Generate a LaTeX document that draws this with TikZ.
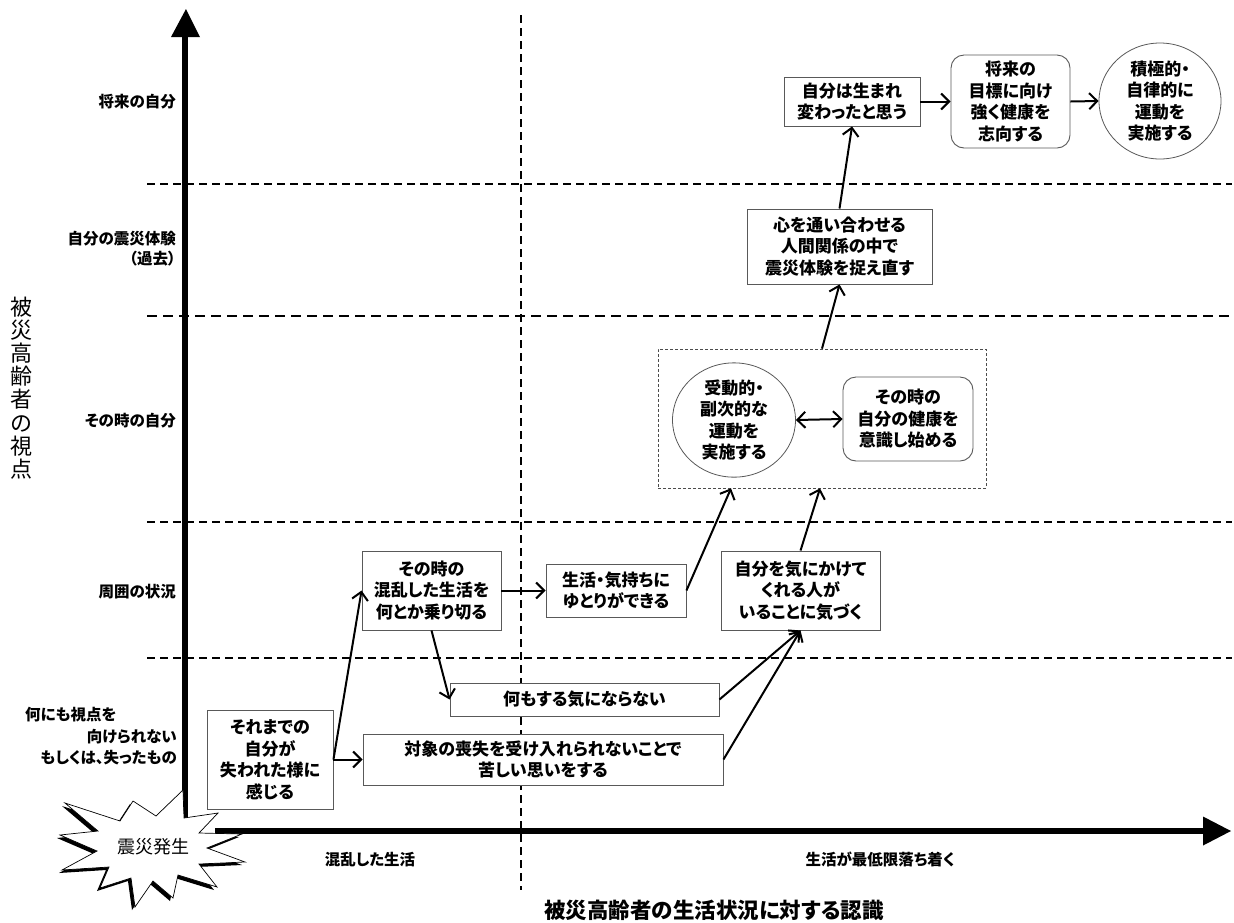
\documentclass[tikz,border=0pt]{standalone}
\usepackage{fontspec}
\setmainfont{Noto Sans CJK JP}[RawFeature={+palt}]
\usetikzlibrary{arrows.meta,shapes.geometric,calc}
\tikzset{
  boxtext/.style={font=\bfseries\fontsize{17}{21.5}\selectfont, align=center, text=black},
  sqbox/.style={boxtext, draw=black!65, line width=0.9pt, fill=white, inner sep=0pt},
  rbox/.style={sqbox, rounded corners=13pt},
  ebox/.style={boxtext, ellipse, draw=black!65, line width=0.8pt, fill=white, inner sep=0pt},
  rowlabel/.style={font=\bfseries\fontsize{15.5}{19}\selectfont, inner sep=0pt},
  conn/.style={line width=2pt, -{Straight Barb[length=8pt,width=16pt]}},
  dconn/.style={line width=2pt, {Straight Barb[length=8pt,width=16pt]}-{Straight Barb[length=8pt,width=16pt]}},
  rowsep/.style={line width=1.5pt, dash pattern=on 8pt off 5pt},
  rowsepthick/.style={line width=2.3pt, dash pattern=on 10pt off 6pt},
  colsep/.style={line width=1.3pt, dash pattern=on 8pt off 5pt},
  axisline/.style={line width=6pt}
}
\begin{document}
\begin{tikzpicture}[x=1pt,y=-1pt]
\useasboundingbox (0,0) rectangle (1234,922);
\fill[white] (0,0) rectangle (1234,922);

% separators
\draw[rowsep] (147,184) -- (1232,184);
\draw[rowsepthick] (147,316) -- (1232,316);
\draw[rowsep] (147,522) -- (1232,522);
\draw[rowsep] (147,658) -- (1232,658);
\draw[colsep] (521,15) -- (521,890);

% axes
\coordinate (yb) at (185,818);
\coordinate (yt) at (185,36);
\coordinate (xl) at (215,831);
\coordinate (xr) at (1204,831);
\draw[axisline] (yb) -- (yt);
\fill (171,37) -- (200,37) -- (186,9) -- cycle;
\draw[axisline] (xl) -- (xr);
\fill (1203,816.5) -- (1203,845.5) -- (1231,831) -- cycle;

% row labels
\node[rowlabel, anchor=east] (r1) at (176,102) {将来の自分};
\node[rowlabel, anchor=east] (r2a) at (176,239) {自分の震災体験};
\node[rowlabel, anchor=east] (r2b) at (176,259) {（過去）};
\node[rowlabel, anchor=east] (r3) at (176,421) {その時の自分};
\node[rowlabel, anchor=east] (r4) at (176,592) {周囲の状況};
\node[rowlabel, anchor=west] (r5a) at (25,715) {何にも視点を};
\node[rowlabel, anchor=east] (r5b) at (177,737) {向けられない};
\node[rowlabel, anchor=east] (r5c) at (177,758) {もしくは、失ったもの};

% vertical axis title
\node[font=\fontsize{22}{23.2}\selectfont, align=center, inner sep=0pt] (ytitle) at (21,388)
  {被\\災\\高\\齢\\者\\の\\視\\点};

% bottom labels
\node[rowlabel] (xl1) at (370,860) {混乱した生活};
\node[rowlabel] (xl2) at (880,859) {生活が最低限落ち着く};
\node[font=\bfseries\fontsize{21.5}{24}\selectfont, inner sep=0pt] (xtitle) at (714,910) {被災高齢者の生活状況に対する認識};

% starburst
\def\burst{(65,803) -- (120,821) -- (133,801) -- (156,816) -- (183,790) -- (184,818) -- (218,813) -- (199,833) -- (242,834) -- (207,848) -- (245,862) -- (199,864) -- (217,887) -- (178,875) -- (173,898) -- (153,881) -- (135,907) -- (131,878) -- (100,888) -- (109,867) -- (62,870) -- (97,851) -- (60,835) -- (98,831) -- cycle}
\fill[black, shift={(-3,3)}] \burst;
\filldraw[fill=white, draw=black, line width=0.7pt] \burst;
\node[font=\fontsize{18}{20}\selectfont, inner sep=0pt] (quake) at (153,847) {震災発生};

% boxes
\node[sqbox, minimum width=126pt, minimum height=99pt] (b1) at (270,759.5) {それまでの\\自分が\\失われた様に\\感じる};
\node[sqbox, minimum width=360pt, minimum height=51pt] (b2) at (543,759.5) {対象の喪失を受け入れられないことで\\苦しい思いをする};
\node[sqbox, minimum width=269pt, minimum height=33pt] (b3) at (584.5,699.5) {何もする気にならない};
\node[sqbox, minimum width=139pt, minimum height=79pt] (b4) at (431.5,590.5) {その時の\\混乱した生活を\\何とか乗り切る};
\node[sqbox, minimum width=140pt, minimum height=53pt] (b5) at (616,590.5) {生活・気持ちに\\ゆとりができる};
\node[sqbox, minimum width=159pt, minimum height=79pt] (b6) at (800.5,590.5) {自分を気にかけて\\くれる人が\\いることに気づく};

\node[draw=black!70, line width=0.7pt, dash pattern=on 3pt off 2pt, minimum width=328pt, minimum height=139pt, inner sep=0pt] (grp) at (822,418.5) {};
\node[ebox, minimum width=123pt, minimum height=112pt] (ell) at (734,420) {受動的・\\副次的な\\運動を\\実施する};
\node[rbox, minimum width=130pt, minimum height=84pt] (rr1) at (908,419) {その時の\\自分の健康を\\意識し始める};

\node[sqbox, minimum width=185pt, minimum height=75pt] (b7) at (839.5,246.5) {心を通い合わせる\\人間関係の中で\\震災体験を捉え直す};
\node[sqbox, minimum width=136pt, minimum height=49pt] (b8) at (852,101.5) {自分は生まれ\\変わったと思う};
\node[rbox, minimum width=119pt, minimum height=93pt] (rr2) at (1010.5,101.5) {将来の\\目標に向け\\強く健康を\\志向する};
\node[ebox, minimum width=122pt, minimum height=116pt] (circ) at (1160,101) {積極的・\\自律的に\\運動を\\実施する};

% connectors
\draw[conn] (b1.east) -- (b4.west);
\draw[conn] (b1.east) -- (b2.west);
\draw[conn] (b4.east) -- (b5.west);
\draw[conn] (b4.south) -- (b3.west);
\draw[conn] (b5.east) -- ([xshift=-91pt]grp.south);
\draw[conn] (b3.east) -- (b6.south);
\draw[conn] (b2.east) -- (b6.south);
\draw[conn] (b6.north) -- ([xshift=-2pt]grp.south);
\draw[conn] (grp.north) -- (b7.south);
\draw[conn] (b7.north) -- (b8.south);
\draw[conn] (b8.east) -- (rr2.west);
\draw[conn] (rr2.east) -- (circ.west);
\draw[dconn] (ell.east) -- (rr1.west);
\end{tikzpicture}
\end{document}
